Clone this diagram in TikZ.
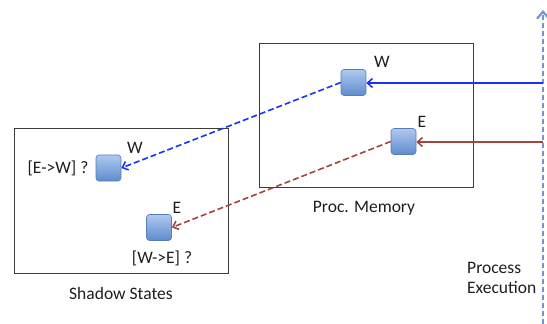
\documentclass[tikz,border=0pt]{standalone}
\usepackage{fontspec}
\setmainfont{Carlito}
\usetikzlibrary{arrows.meta}
\definecolor{boxedge}{RGB}{60,60,60}
\definecolor{sqtop}{RGB}{175,200,240}
\definecolor{sqbot}{RGB}{95,140,205}
\definecolor{sqedge}{RGB}{85,125,185}
\definecolor{wblue}{RGB}{25,50,250}
\definecolor{ered}{RGB}{160,70,60}
\definecolor{execblue}{RGB}{115,150,205}
\definecolor{txt}{RGB}{30,30,30}
\tikzset{
  memsq/.style={draw=sqedge, line width=0.6pt, rounded corners=3pt, top color=sqtop, bottom color=sqbot, minimum width=25pt, minimum height=26pt, inner sep=0pt},
  lbl/.style={font=\fontsize{17.5}{20}\selectfont, text=txt, inner sep=0pt},
  wflow/.style={draw=wblue, line width=1.6pt, -{Straight Barb[length=5pt,width=9pt]}},
  eflow/.style={draw=ered, line width=1.6pt, -{Straight Barb[length=5pt,width=9pt]}},
  dashflow/.style={dash pattern=on 6pt off 3pt},
}
\begin{document}
\begin{tikzpicture}[x=1pt,y=-1pt]
\useasboundingbox (0,0) rectangle (547,324);
% regions
\draw[draw=boxedge, line width=1pt] (259,43) rectangle (473,187);
\draw[draw=boxedge, line width=1pt] (14,128) rectangle (228,273);
\node[lbl] (pm) at (364,208) {Proc. Memory};
\node[lbl] (ss) at (121,293) {Shadow States};
% squares
\node[memsq] (pw) at (353.5,82.5) {};
\node[memsq] (pe) at (403.5,141.5) {};
\node[memsq] (sw) at (108.5,168) {};
\node[memsq] (se) at (159,227.5) {};
% labels
\node[lbl] (pwl) at (382,62) {W};
\node[lbl] (pel) at (422,122) {E};
\node[lbl] (swl) at (135,148) {W};
\node[lbl] (sel) at (177,208) {E};
\node[lbl] (swq) at (58,168) {[E->W] ?};
\node[lbl] (seq) at (162,258) {[W->E] ?};
\node[lbl, align=left, anchor=west] (pex) at (467,278) {Process\\Execution};
% execution axis
\coordinate (ebot) at (543,324);
\coordinate (etop) at (543,10);
\draw[draw=execblue, line width=1.6pt, dash pattern=on 5pt off 3pt, -{Straight Barb[length=7pt,width=12pt,line width=2.2pt]}] (ebot) -- (etop);
\coordinate (wsrc) at (543,83);
\coordinate (esrc) at (543,142);
\draw[wflow] (wsrc) -- (pw.east |- wsrc);
\draw[eflow] (esrc) -- (pe.east |- esrc);
\draw[wflow, dashflow] (pw.west) -- (sw.east);
\draw[eflow, dashflow] (pe.west) -- (se.east);
\end{tikzpicture}
\end{document}
